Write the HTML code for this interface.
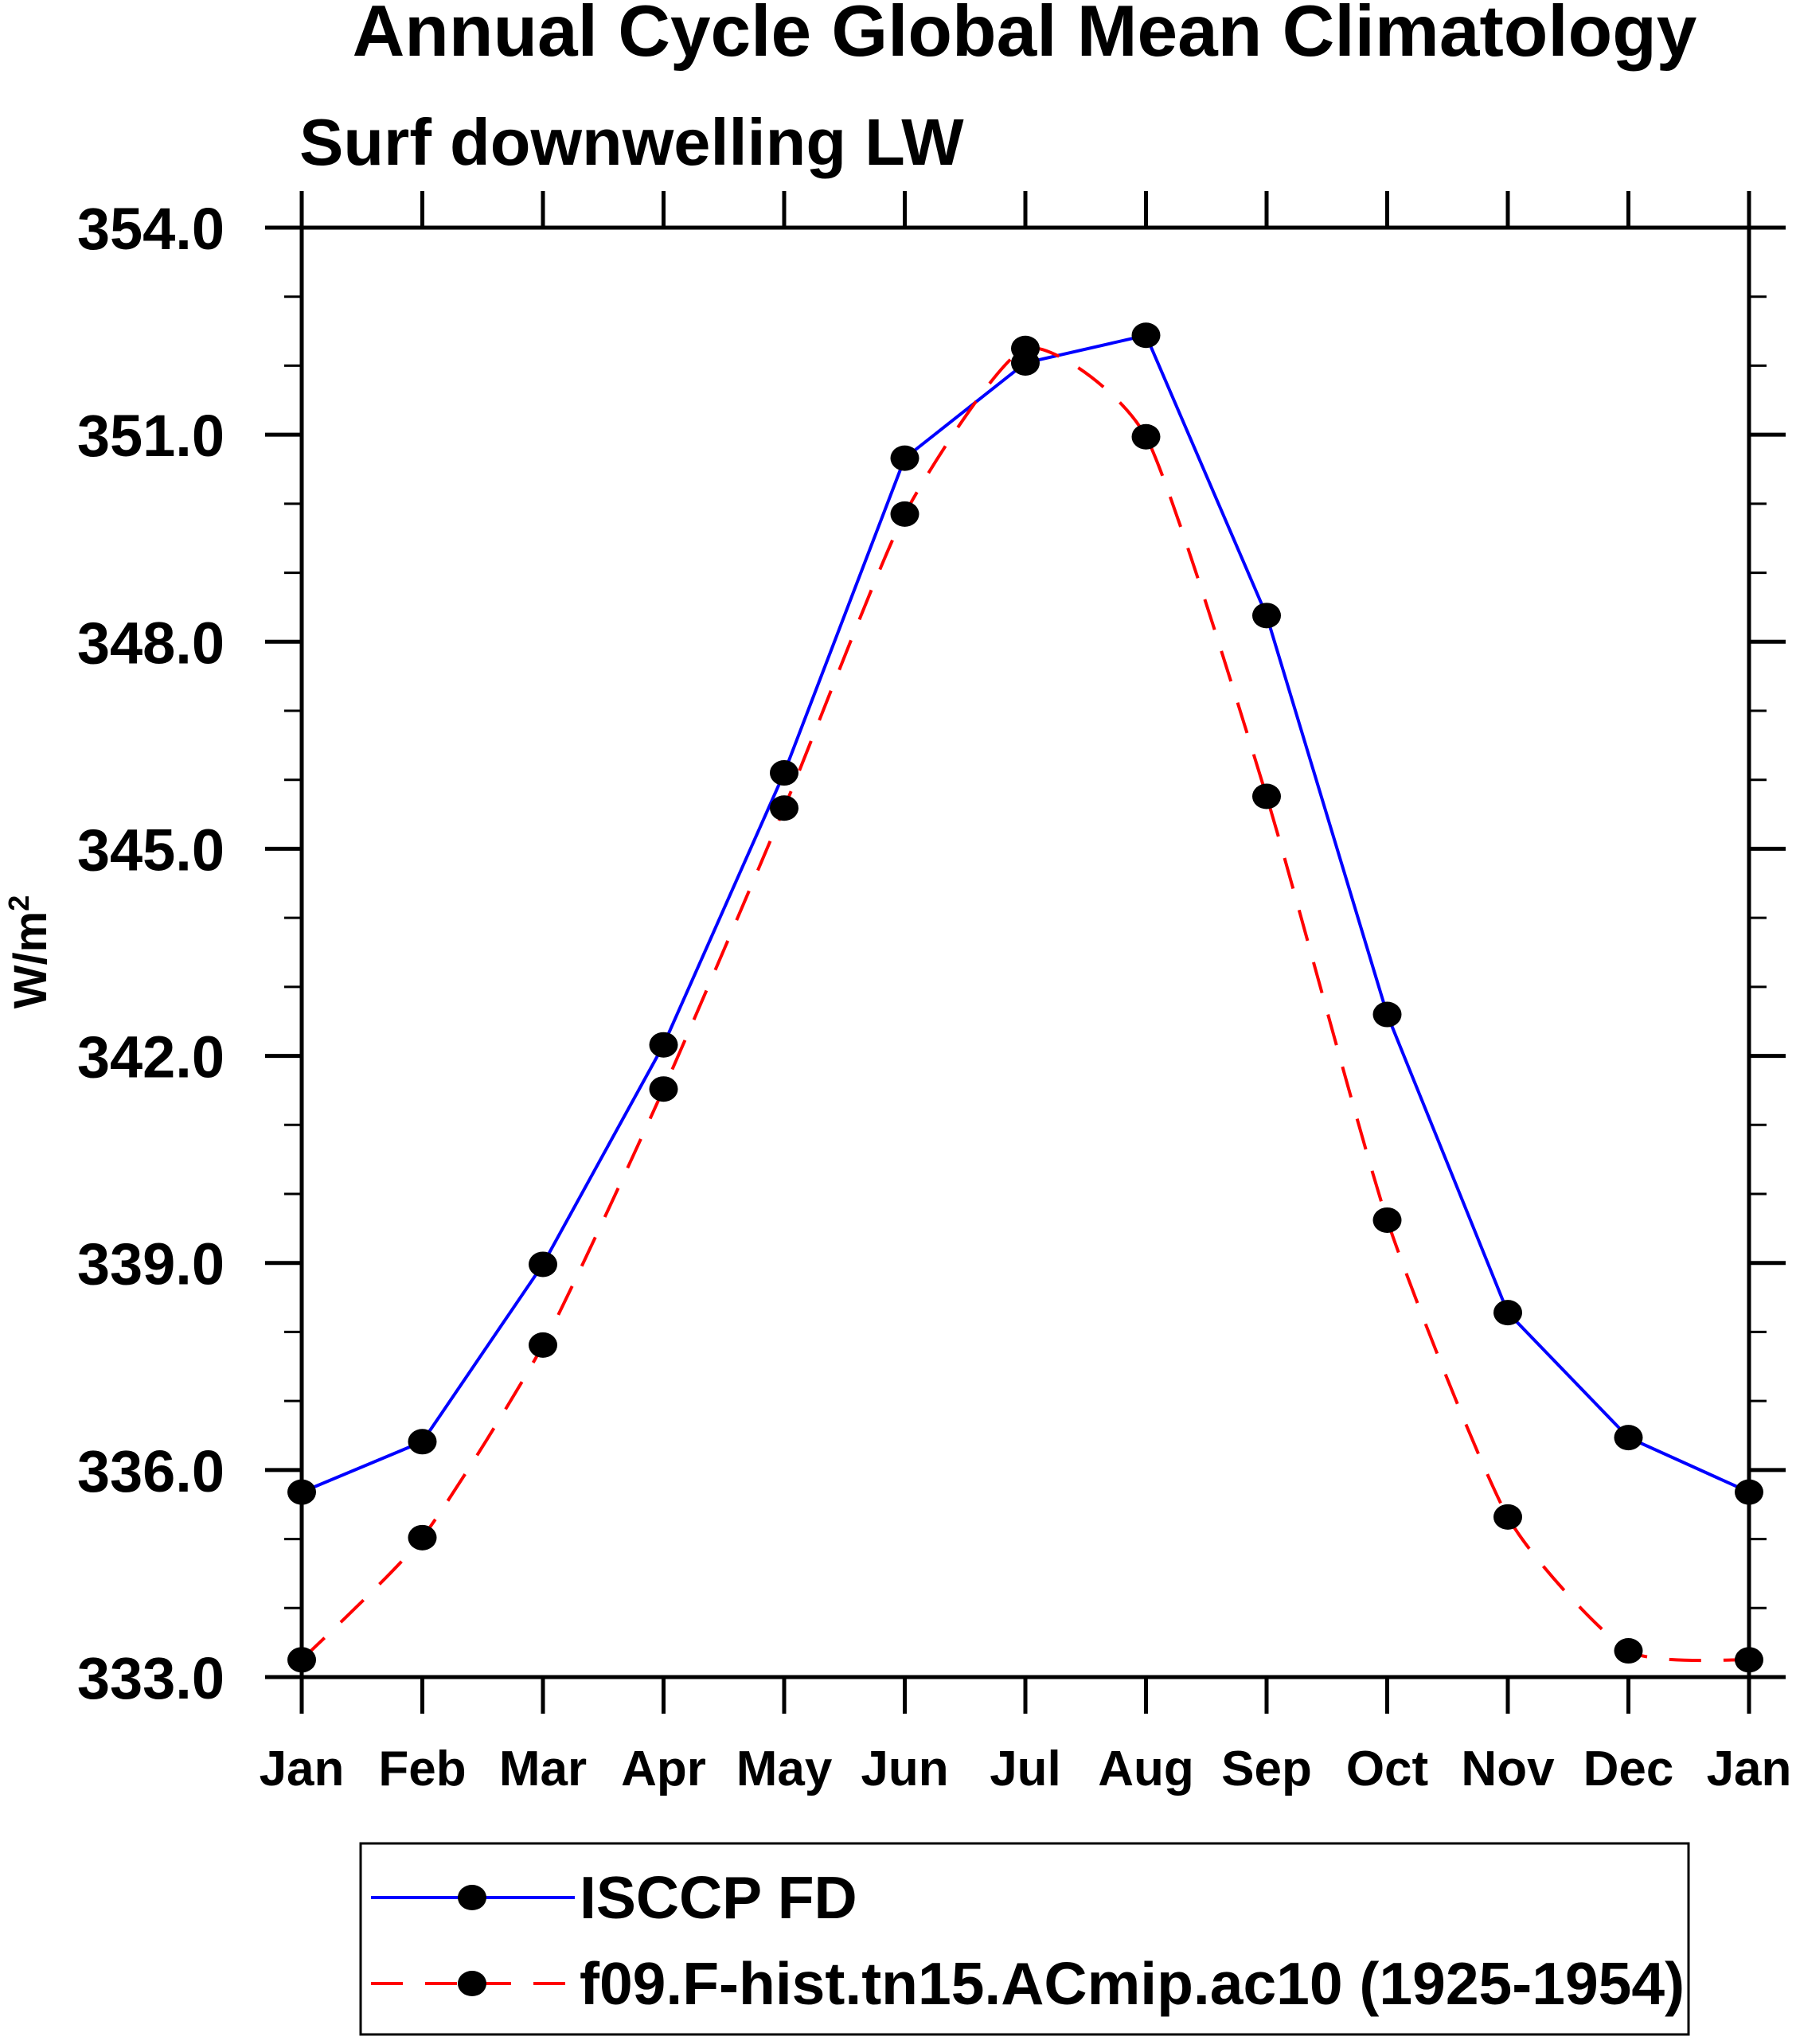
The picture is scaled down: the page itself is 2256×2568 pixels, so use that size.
<!DOCTYPE html>
<html><head><meta charset="utf-8"><style>
html,body{margin:0;padding:0;background:#fff}
svg{display:block;font-family:"Liberation Sans",Arial,sans-serif;font-weight:bold}
</style></head><body>
<svg id="chart" width="2256" height="2568" viewBox="0 0 2256 2568" xmlns="http://www.w3.org/2000/svg">
<text x="1287" y="70" font-size="91" text-anchor="middle">Annual Cycle Global Mean Climatology</text>
<text x="376" y="207" font-size="83">Surf downwelling LW</text>
<text transform="translate(58,1196) rotate(-90)" font-size="58" text-anchor="middle">W/m<tspan dy="-22" font-size="36">2</tspan></text>
<g id="axes"></g>
<g id="series"></g>
<g id="legend">
<rect x="453" y="2316" width="1668" height="240" fill="none" stroke="#000" stroke-width="3"/>
<g>
<line x1="466" y1="2384" x2="722" y2="2384" stroke="#0000ff" stroke-width="4"/>
<ellipse cx="593" cy="2384" rx="18" ry="16" fill="#000"/>
<text x="728" y="2410" font-size="75">ISCCP FD</text></g>
<g>
<line x1="466" y1="2492" x2="722" y2="2492" stroke="#ff0000" stroke-width="4" stroke-dasharray="40,28"/>
<ellipse cx="593" cy="2492" rx="18" ry="16" fill="#000"/>
<text x="728" y="2518" font-size="75">f09.F-hist.tn15.ACmip.ac10 (1925-1954)</text></g>
</g>
</svg>
<script>
const months = ["Jan","Feb","Mar","Apr","May","Jun","Jul","Aug","Sep","Oct","Nov","Dec","Jan"];
const isccp = [335.68,336.41,338.98,342.16,346.10,350.66,352.04,352.44,348.38,342.60,338.28,336.47,335.68];
const model = [333.25,335.02,337.81,341.52,345.59,349.85,352.25,350.97,345.76,339.62,335.32,333.38,333.25];
const yTicks = [333,336,339,342,345,348,351,354];
const yTickLabels = ["333.0","336.0","339.0","342.0","345.0","348.0","351.0","354.0"];
const L=379,R=2197,T=286,B=2107,YMIN=333,YMAX=354;
const NS="http://www.w3.org/2000/svg";
const xs=i=>L+(R-L)*i/(months.length-1);
const ys=v=>B-(v-YMIN)/(YMAX-YMIN)*(B-T);
function mk(tag,attrs,parent,text){const e=document.createElementNS(NS,tag);for(const k in attrs)e.setAttribute(k,attrs[k]);if(text!==undefined)e.textContent=text;parent.appendChild(e);return e;}
const ax=document.getElementById('axes');
const frame=mk('rect',{x:L,y:T,width:R-L,height:B-T,fill:'none',stroke:'#000','stroke-width':5},ax);


for(let i=0;i<months.length;i++){
  const x=xs(i);
  mk('line',{x1:x,y1:B,x2:x,y2:B+46,stroke:'#000','stroke-width':5},ax);
  mk('line',{x1:x,y1:T,x2:x,y2:T-46,stroke:'#000','stroke-width':5},ax);
  const t=mk('text',{x:x,y:2243,'font-size':62,'text-anchor':'middle'},ax,months[i]);
  
  
}
for(let v=YMIN;v<=YMAX;v++){
  const y=ys(v);const major=(v-YMIN)%3===0;const len=major?46:22;
  mk('line',{x1:L,y1:y,x2:L-len,y2:y,stroke:'#000','stroke-width':major?5:3},ax);
  mk('line',{x1:R,y1:y,x2:R+len,y2:y,stroke:'#000','stroke-width':major?5:3},ax);
}
yTicks.forEach((v,i)=>{
  const t=mk('text',{x:282,y:ys(v)+27,'font-size':74,'text-anchor':'end'},ax,yTickLabels[i]);
  
  
});
const sg=document.getElementById('series');
function smoothPath(vals){
  const p=vals.map((v,i)=>[xs(i),ys(v)]);
  let d='M'+p[0][0]+','+p[0][1];
  for(let i=0;i<p.length-1;i++){
    const p0=p[Math.max(0,i-1)],p1=p[i],p2=p[i+1],p3=p[Math.min(p.length-1,i+2)];
    const c1=[p1[0]+(p2[0]-p0[0])/10,p1[1]+(p2[1]-p0[1])/10];
    const c2=[p2[0]-(p3[0]-p1[0])/10,p2[1]-(p3[1]-p1[1])/10];
    d+=' C'+c1[0]+','+c1[1]+' '+c2[0]+','+c2[1]+' '+p2[0]+','+p2[1];
  }
  return d;
}
function series(vals,color,dash,name,smooth){
  let pl;
  if(smooth){
    pl=mk('path',{d:smoothPath(vals),fill:'none',stroke:color,'stroke-width':4,'stroke-dasharray':dash},sg);
  } else {
    const pts=vals.map((v,i)=>xs(i)+','+ys(v)).join(' ');
    pl=mk('polyline',{points:pts,fill:'none',stroke:color,'stroke-width':4,'stroke-dasharray':dash},sg);
  }
  
  
  vals.forEach((v,i)=>{
    const c=mk('ellipse',{cx:xs(i),cy:ys(v),rx:18,ry:16,fill:'#000'},sg);
    
    
  });
}
series(isccp,'#0000ff','none','isccp',false);
series(model,'#ff0000','40,28','model',true);
</script>
</body></html>
